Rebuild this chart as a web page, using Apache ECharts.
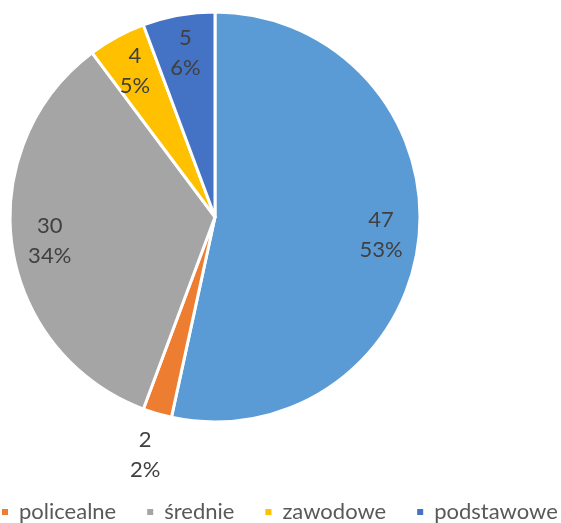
<!DOCTYPE html>
<html><head><meta charset="utf-8">
<script src="https://cdn.jsdelivr.net/npm/echarts@6/dist/echarts.min.js"></script>
<style>html,body{margin:0;padding:0;background:#fff}#c{width:561px;height:523px}</style>
</head><body><div id="c"></div>
<script>
const categories = ['wyższe', 'policealne', 'średnie', 'zawodowe', 'podstawowe'];
const values = [47, 2, 30, 4, 5];
const colors = ['#5B9BD5', '#ED7D31', '#A5A5A5', '#FFC000', '#4472C4'];
const legendItems = ['policealne', 'średnie', 'zawodowe', 'podstawowe'];

const total = values.reduce((a, b) => a + b, 0);
const R = 205;
const center = [215, 217];
const FONT = 'Lato';
const fmt = p => values[p.dataIndex] + '\n' + Math.round(values[p.dataIndex] / total * 100) + '%';

const baseData = categories.map((n, i) => ({ name: n, value: values[i], itemStyle: { color: colors[i] } }));
const overlayData = (show) => categories.map((n, i) => ({
  name: n, value: values[i],
  itemStyle: { color: 'rgba(0,0,0,0)', borderWidth: 0 },
  label: { show: show(i) }
}));
const labelStyle = { position: 'inside', formatter: fmt, color: '#404040', fontSize: 22, fontFamily: FONT, lineHeight: 30 };

const chart = echarts.init(document.getElementById('c'));
chart.setOption({
  animation: false,
  legend: {
    data: legendItems, left: 0, top: 496, width: 700, padding: [5, 0, 5, 0], icon: 'rect', itemWidth: 8, itemHeight: 8, itemGap: 29,
    textStyle: { color: '#595959', fontSize: 22, fontFamily: FONT, padding: [0, 0, 0, 5] }
  },
  series: [
    { type: 'pie', center: center, radius: [0, R], startAngle: 90, clockwise: true, silent: true,
      itemStyle: { borderColor: '#fff', borderWidth: 3 }, label: { show: false }, labelLine: { show: false },
      data: baseData },
    { type: 'pie', center: center, radius: [R * 0.6, R], startAngle: 90, clockwise: true, silent: true,
      legendHoverLink: false, label: labelStyle, labelLine: { show: false },
      data: overlayData(i => i !== 1) },
    { type: 'pie', center: center, radius: [R + 16, R + 64], startAngle: 90, clockwise: true, silent: true,
      legendHoverLink: false, label: labelStyle, labelLine: { show: false },
      data: overlayData(i => i === 1) }
  ]
});
</script></body></html>
